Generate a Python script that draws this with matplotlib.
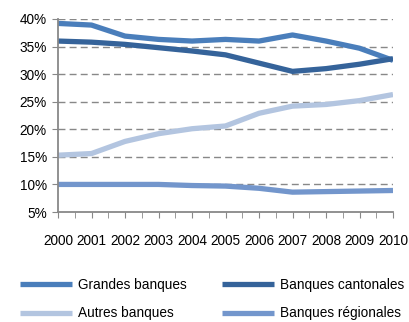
import matplotlib.pyplot as plt
from matplotlib.ticker import MultipleLocator, FuncFormatter

plt.rcParams['font.family'] = ['Liberation Sans', 'DejaVu Sans']

years = list(range(2000, 2011))
grandes = [39.2, 38.9, 36.9, 36.3, 36.0, 36.3, 36.0, 37.1, 36.0, 34.7, 32.5]
cantonales = [36.0, 35.8, 35.4, 34.8, 34.2, 33.5, 32.0, 30.5, 31.0, 31.8, 32.8]
autres = [15.3, 15.6, 17.8, 19.2, 20.1, 20.6, 22.9, 24.2, 24.5, 25.2, 26.3]
regionales = [10.0, 10.0, 10.0, 10.0, 9.8, 9.7, 9.3, 8.6, 8.7, 8.8, 8.9]

fig = plt.figure(figsize=(4.09, 3.22), dpi=100)
ax = fig.add_axes([58 / 409, 1 - 212 / 322, 335 / 409, 193 / 322])

lw = 3.8
l1, = ax.plot(years, grandes, color='#4a7ebb', lw=lw, solid_capstyle='butt', label='Grandes banques')
l2, = ax.plot(years, cantonales, color='#35639a', lw=lw, solid_capstyle='butt', label='Banques cantonales')
l3, = ax.plot(years, autres, color='#b3c5e0', lw=lw, solid_capstyle='butt', label='Autres banques')
l4, = ax.plot(years, regionales, color='#7396cc', lw=lw, solid_capstyle='butt', label='Banques régionales')

ax.set_xlim(2000, 2010)
ax.set_ylim(5, 40)
ax.yaxis.set_major_locator(MultipleLocator(5))
ax.yaxis.set_major_formatter(FuncFormatter(lambda v, p: '%d%%' % v))
ax.xaxis.set_major_locator(MultipleLocator(1))
ax.xaxis.set_minor_locator(MultipleLocator(0.5))
ax.xaxis.set_major_formatter(FuncFormatter(lambda v, p: '%d' % v))

for y in range(10, 41, 5):
    ax.axhline(y, color='#888888', lw=1.0, ls=(0, (5, 3)), zorder=0)

for s in ['top', 'right']:
    ax.spines[s].set_visible(False)
for s in ['left', 'bottom']:
    ax.spines[s].set_color('#888888')
    ax.spines[s].set_linewidth(1.3)

ax.tick_params(axis='y', length=4, color='#888888', labelsize=9.8, pad=4)
ax.tick_params(axis='x', which='both', length=4, color='#888888', labelsize=9.8, pad=12)

fig.legend([l1, l3, l2, l4], [l.get_label() for l in [l1, l3, l2, l4]],
           ncol=2, frameon=False, loc='upper left',
           bbox_to_anchor=(20 / 409, 1 - 278 / 322), borderaxespad=0, borderpad=0,
           handlelength=3.8, handletextpad=0.45, columnspacing=2.6,
           labelspacing=1.05, fontsize=9.8)

fig.savefig('out.png', dpi=100)
